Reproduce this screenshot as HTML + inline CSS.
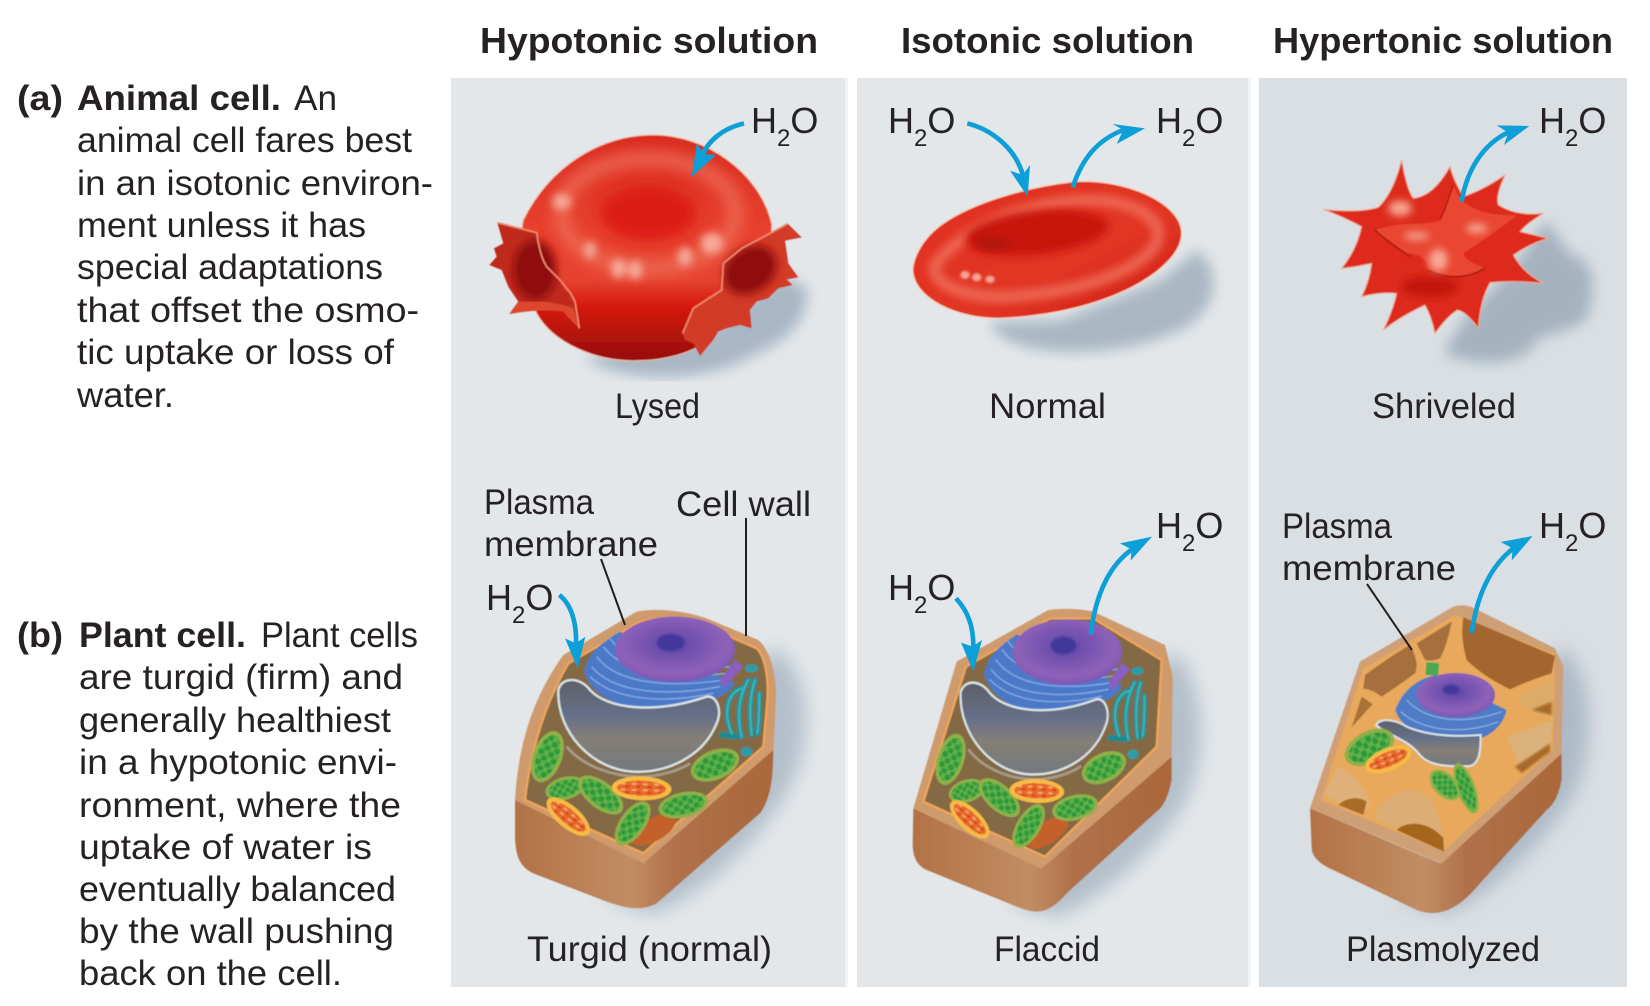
<!DOCTYPE html>
<html lang="en"><head><meta charset="utf-8"><title>Osmosis in animal and plant cells</title>
<style>html,body{margin:0;padding:0;background:#fff;width:1650px;height:1006px;overflow:hidden}svg{display:block}
text{font-family:"Liberation Sans",sans-serif;fill:#262223}.b{font-weight:bold}</style></head><body>
<svg xmlns="http://www.w3.org/2000/svg" width="1650" height="1006" viewBox="0 0 1650 1006">
<defs>
<filter id="s" x="-5%" y="-5%" width="110%" height="110%"><feGaussianBlur stdDeviation="1.6"/></filter>
<filter id="b2" x="-30%" y="-30%" width="160%" height="160%"><feGaussianBlur stdDeviation="3"/></filter>
<filter id="b8" x="-60%" y="-60%" width="220%" height="220%"><feGaussianBlur stdDeviation="12"/></filter>
<filter id="b16" x="-50%" y="-50%" width="200%" height="200%"><feGaussianBlur stdDeviation="20"/></filter>
<filter id="b28" x="-60%" y="-60%" width="220%" height="220%"><feGaussianBlur stdDeviation="28"/></filter>
<linearGradient id="side" x1="0" y1="0" x2="1" y2="0"><stop offset="0" stop-color="#b27246"/><stop offset=".45" stop-color="#c28d63"/><stop offset=".62" stop-color="#b0714a"/><stop offset="1" stop-color="#aa683a"/></linearGradient>
<linearGradient id="vac" x1="0" y1="0" x2="0" y2="1"><stop offset="0" stop-color="#5e6066"/><stop offset=".38" stop-color="#66708a"/><stop offset=".65" stop-color="#857f76"/><stop offset="1" stop-color="#73787f"/></linearGradient>
<radialGradient id="nuc" cx=".48" cy=".42" r=".6"><stop offset="0" stop-color="#4f3fa0"/><stop offset=".25" stop-color="#6e4fae"/><stop offset=".75" stop-color="#8f62b8"/><stop offset="1" stop-color="#7a55b4"/></radialGradient>
<linearGradient id="lys" x1="0" y1="0" x2="0" y2="1"><stop offset="0" stop-color="#d92b20"/><stop offset=".4" stop-color="#e7402d"/><stop offset=".64" stop-color="#e64330"/><stop offset=".76" stop-color="#d5190f"/><stop offset="1" stop-color="#960e0b"/></linearGradient>
<linearGradient id="nor" x1="0" y1="0" x2="1" y2="1"><stop offset="0" stop-color="#e0301f"/><stop offset=".6" stop-color="#e23524"/><stop offset="1" stop-color="#cc1c12"/></linearGradient>
<pattern id="dots" patternUnits="userSpaceOnUse" width="32" height="28"><rect width="32" height="28" fill="#62b048"/><circle cx="9" cy="8" r="9" fill="#2c9a3c"/><circle cx="25" cy="21" r="9" fill="#2c9a3c"/></pattern>
<pattern id="mdots" patternUnits="userSpaceOnUse" width="30" height="18"><rect width="30" height="18" fill="#e9692b"/><rect x="3" y="3" width="13" height="5" fill="#f3b27a"/><rect x="16" y="11" width="11" height="5" fill="#c9401c"/></pattern>
<g id="chl"><ellipse rx="80" ry="40" fill="#8fb04a"/><ellipse rx="68" ry="30" fill="url(#dots)"/></g>
<g id="mit"><ellipse rx="80" ry="36" fill="#f6bb45"/><ellipse rx="66" ry="23" fill="url(#mdots)"/></g>
<g id="org">
<ellipse cx="640" cy="1050" rx="75" ry="34" transform="rotate(-30 640 1050)" fill="#c4602a"/>
<path d="M432 575C445 510 500 480 540 455L885 610C860 660 780 665 700 685 600 705 460 670 432 575Z" fill="#4c79c8"/>
<g fill="none" stroke="#86a9e4" stroke-width="4"><path d="M455 560C520 640 680 650 840 620"/><path d="M470 530C530 610 680 625 850 600"/><path d="M490 500C550 580 700 600 860 580"/><path d="M450 590C530 665 680 670 820 640"/><path d="M510 475C570 560 720 580 870 560"/></g>
<path d="M850 625L910 560 885 540 840 600Z" fill="#8a5fc0"/>
<ellipse cx="705" cy="508" rx="180" ry="98" fill="url(#nuc)"/>
<ellipse cx="692" cy="488" rx="42" ry="26" fill="#42389a" filter="url(#b2)"/>
<path d="M355 630C365 590 420 590 450 630 500 685 640 705 800 650 830 645 848 690 830 730 790 830 680 880 580 875 460 870 350 760 355 630Z" fill="url(#vac)" stroke="#d8e3e6" stroke-width="7"/>
<path d="M380 800C430 860 520 890 600 890 660 890 720 870 750 850" fill="none" stroke="#a79b8c" stroke-width="8"/>
<g fill="none" stroke="#1d8a92" stroke-width="17" stroke-linecap="round"><path d="M905 625C860 640 850 700 875 760"/><path d="M925 600C895 650 890 710 905 770"/><path d="M945 600C925 660 930 720 935 765"/><path d="M958 640C958 680 958 720 952 760"/><path d="M845 765L890 770"/></g>
<g fill="none" stroke="#38b2b8" stroke-width="8" stroke-linecap="round"><path d="M905 625C860 640 850 700 875 760"/><path d="M925 600C895 650 890 710 905 770"/><path d="M945 600C925 660 930 720 935 765"/><path d="M958 640C958 680 958 720 952 760"/></g>
<ellipse cx="935" cy="565" rx="20" ry="12" fill="#2a9ea6"/><ellipse cx="920" cy="815" rx="18" ry="14" fill="#2a9ea6"/>
<use href="#chl" transform="translate(322 830) rotate(-70) scale(1 1.1)"/>
<use href="#chl" transform="translate(825 855) rotate(-22) scale(.95 1.1)"/>
<use href="#chl" transform="translate(375 925) rotate(-15) scale(.75 .85)"/>
<use href="#chl" transform="translate(482 945) rotate(38) scale(1 1)"/>
<use href="#mit" transform="translate(605 925) rotate(2) scale(1.12 1)"/>
<use href="#mit" transform="translate(385 1010) rotate(40) scale(1 .95)"/>
<use href="#chl" transform="translate(578 1030) rotate(-55) scale(.95 .95)"/>
<use href="#chl" transform="translate(730 975) rotate(-12) scale(.95 .95)"/>
</g>
</defs>

<rect x="451" y="78" width="394" height="909" fill="#e3e7ea"/>
<rect x="845" y="78" width="3" height="909" fill="#f0f2f4"/>
<rect x="857" y="78" width="391" height="909" fill="#e3e7ea"/>
<rect x="1248" y="78" width="3" height="909" fill="#f3f4f5"/>
<rect x="1259" y="78" width="368" height="909" fill="#dadfe3"/>

<!-- Lysed -->
<g transform="translate(440 0) scale(.33333)"><g filter="url(#s)">
<path d="M430 1075C600 1170 850 1130 950 1060 1050 1020 1110 950 1100 860L1020 830 800 1000Z" fill="#a9b7c4" filter="url(#b16)"/>
<path d="M250 660C330 500 480 405 640 405 800 405 960 520 995 672 1000 760 900 960 775 1040 720 1070 650 1082 590 1082 470 1085 340 1030 290 940 270 880 230 760 250 660Z" fill="url(#lys)" stroke="#f4b6a0" stroke-width="3"/>
<ellipse cx="625" cy="640" rx="262" ry="165" fill="none" stroke="#ee6b56" stroke-width="50" filter="url(#b16)" opacity=".8"/>
<ellipse cx="625" cy="640" rx="145" ry="82" fill="#dc1a18" filter="url(#b16)"/>
<g fill="#f7a898" filter="url(#b8)"><ellipse cx="365" cy="605" rx="28" ry="24"/><ellipse cx="535" cy="805" rx="22" ry="30"/><ellipse cx="585" cy="810" rx="22" ry="28"/><ellipse cx="735" cy="770" rx="22" ry="28"/><ellipse cx="815" cy="730" rx="34" ry="32"/><ellipse cx="450" cy="750" rx="18" ry="26"/></g>
<path d="M172 668L250 690 290 698Q300 770 320 800L360 840 372 870 392 880 388 900 405 905 418 985Q390 960 370 935 300 925 208 942L235 905 205 860 185 810 148 795 170 770 162 745 190 730Z" fill="#c02a1e"/>
<ellipse cx="285" cy="810" rx="65" ry="90" fill="#8f100c" filter="url(#b8)"/>
<path d="M208 942L235 905 310 905Q360 910 400 925L418 985Q390 960 370 935 300 925 208 942Z" fill="#dc472f"/>
<path d="M1042 670L1085 712 1035 722 1045 790 1075 832 1040 838 1058 855 1015 865 985 895 950 905 930 930 935 985 900 975 860 985 835 995 820 1020 780 1068 760 1030 735 1020 728 1000 760 925 845 870 850 790 905 745 1000 695Z" fill="#d23a27"/>
<ellipse cx="930" cy="810" rx="85" ry="66" transform="rotate(-35 930 810)" fill="#8f100c" filter="url(#b8)"/>
<g fill="none" stroke="#ef8a70" stroke-width="5"><path d="M172 668L290 698Q300 770 320 800L360 840 392 880 405 905 418 985"/><path d="M1042 672L1000 695 905 745 850 790 845 870 760 925 728 1000"/></g>
</g></g>

<!-- Normal -->
<g transform="translate(860 80) scale(.33333)"><g filter="url(#s)">
<path d="M390 725C420 840 780 850 980 740 1070 690 1090 570 1010 510L900 600 600 720Z" fill="#aab7c3" filter="url(#b16)"/>
<path d="M158 565C165 520 190 480 230 445 310 380 470 325 640 305 800 295 965 370 965 460 965 560 760 700 420 715 300 717 158 660 158 565Z" fill="url(#nor)" stroke="#f6cdbb" stroke-width="4"/>
<path d="M225 555C290 470 430 385 640 362 790 350 895 400 895 465 890 535 740 630 450 650 310 655 210 610 225 555Z" fill="none" stroke="#ee6b56" stroke-width="38" filter="url(#b8)" opacity=".85"/>
<ellipse cx="530" cy="458" rx="215" ry="65" transform="rotate(-6 530 458)" fill="#c8160f" filter="url(#b8)"/>
<ellipse cx="400" cy="490" rx="50" ry="18" fill="#ad120c" filter="url(#b8)"/>
<g fill="#f6a595" filter="url(#b2)"><ellipse cx="315" cy="585" rx="14" ry="12"/><ellipse cx="350" cy="592" rx="14" ry="12"/><ellipse cx="390" cy="598" rx="14" ry="11"/></g>
</g></g>

<!-- Shriveled -->
<g transform="translate(1250 0) scale(.33333)"><g filter="url(#s)">
<path d="M580 1060C700 1110 840 1090 860 1020 930 990 1030 980 1020 920 1040 850 1030 780 960 760L890 660 790 800 640 960Z" fill="#a6b3bf" filter="url(#b16)"/>
<path d="M220 628Q330 640 385 622 430 580 455 480 470 570 490 595 550 590 600 500 610 540 640 590 700 570 765 525 735 590 745 615 800 650 880 640 830 670 810 695 850 705 895 715 840 730 790 765 820 820 880 850 790 840 720 848 690 900 685 985 650 935 622 930 590 950 555 1000 545 950 525 915 450 950 400 990 430 930 440 880 390 875 335 890 360 840 365 790 320 800 275 805 320 750 335 680 280 650 220 628Z" fill="#dd2c1c" stroke="#f2a48c" stroke-width="3"/>
<ellipse cx="540" cy="860" rx="85" ry="32" fill="#c4160e" filter="url(#b8)"/>
<path d="M375 690C470 660 540 680 570 660 590 620 600 580 610 555 630 610 680 650 800 645 760 680 700 720 640 760 650 790 700 800 705 803 650 840 560 830 535 810 530 770 500 760 470 760 430 730 400 710 375 690Z" fill="#e94630"/>
<path d="M375 690C420 730 450 750 480 770M535 810C590 840 660 835 705 803M570 660C590 620 600 580 610 555" fill="none" stroke="#a5160e" stroke-width="4"/>
<g fill="#f8a896" filter="url(#b8)"><ellipse cx="450" cy="625" rx="35" ry="22"/><ellipse cx="680" cy="685" rx="32" ry="14"/><ellipse cx="565" cy="780" rx="28" ry="34"/><ellipse cx="500" cy="708" rx="38" ry="11"/></g>
</g></g>

<!-- Turgid -->
<g transform="translate(440 480) scale(.33333)"><g filter="url(#s)">
<path d="M1000 500C1110 570 1120 760 1060 900 960 1100 760 1260 640 1300L500 1260 800 800Z" fill="#b3bfca" filter="url(#b28)"/>
<path d="M225 960L610 1145 1000 810C1000 900 990 960 960 1000L650 1270C600 1295 560 1285 500 1265L280 1180C240 1160 225 1130 225 1060Z" fill="url(#side)"/>
<path d="M225 960C235 790 280 650 370 525L590 395C640 385 720 388 800 415L955 480C990 510 1010 580 1008 660L1000 810 610 1150Z" fill="#cf9a6c"/>
<path d="M255 960C270 820 310 680 385 550L600 425C650 412 720 415 790 435L950 505C975 530 985 590 983 650L970 800 610 1120Z" fill="#836a45" stroke="#f0a45a" stroke-width="7"/>
<use href="#org"/>
</g></g>

<!-- Flaccid -->
<g transform="translate(860 490) scale(.33333)"><g filter="url(#s)">
<path d="M935 480C1040 560 1040 800 980 930 880 1100 700 1240 590 1280L450 1240 750 780Z" fill="#b3bfca" filter="url(#b28)"/>
<path d="M160 955L545 1135 935 800 935 870C925 920 910 950 890 965L620 1210C560 1280 520 1270 470 1250L200 1140C170 1125 158 1100 158 1060Z" fill="url(#side)"/>
<path d="M160 955L290 515 565 360C620 352 680 360 700 365L915 465 938 560 935 800 545 1135Z" fill="#cf9a6c"/>
<path d="M190 935L318 530 570 385 700 385 905 510 890 770 555 1100Z" fill="#836a45" stroke="#f0a45a" stroke-width="7"/>
<use href="#org" transform="translate(-23 -22) scale(.915 1)"/>
</g></g>

<!-- Plasmolyzed -->
<g transform="translate(1250 480) scale(.33333)"><g filter="url(#s)">
<path d="M935 500C1040 580 1030 800 980 930 880 1100 700 1260 590 1300L450 1260 750 780Z" fill="#adbac6" filter="url(#b28)"/>
<path d="M180 985L570 1150 935 820 935 900C925 950 910 975 890 990L690 1210C640 1270 580 1320 500 1290L250 1170C205 1150 185 1130 185 1100Z" fill="url(#side)"/>
<path d="M180 985L330 545 610 380C640 372 660 378 680 388L915 505 940 560 935 820 575 1150Z" fill="#cf9f74"/>
<path d="M212 960L340 565 615 405 915 522 908 810 580 1115Z" fill="#e8a95c"/>
<path d="M345 585Q420 530 480 495 510 550 495 580 440 620 395 650 370 630 340 625Z" fill="#a5703e"/>
<path d="M500 490L605 425Q590 500 570 535 540 545 525 540 510 510 500 490Z" fill="#a5703e"/>
<path d="M640 412L915 528 905 580Q840 600 780 628 700 590 650 540 630 470 640 412Z" fill="#a3662e"/>
<path d="M800 650Q850 625 905 600L905 705Q840 710 800 650Z" fill="#dcab68"/><path d="M845 690L905 665 905 705Z" fill="#a66a28" filter="url(#b2)"/>
<path d="M770 770Q840 745 905 722L900 810 810 880Q800 820 770 770Z" fill="#dcb27c"/><path d="M795 860L900 790 900 815 815 880Z" fill="#a86b2a" filter="url(#b2)"/>
<path d="M370 1010Q400 950 470 930 520 935 545 960 575 1030 585 1100L450 1050Z" fill="#dcae76"/><path d="M440 1050C470 1020 540 1025 580 1075L582 1115Z" fill="#a3661e"/>
<path d="M220 945L262 860Q320 880 360 965L340 1005Z" fill="#dfb07a"/><path d="M265 975C290 950 330 950 350 965L340 1005Z" fill="#a86c27"/>
<path d="M335 650L368 672 305 742Z" fill="#a97338"/>
<rect x="528" y="548" width="38" height="38" fill="#49a851" transform="rotate(5 547 567)"/>
<path d="M436 690C465 610 530 590 560 585L770 690C750 770 670 790 600 790 520 780 450 740 436 690Z" fill="#4f7cc6"/>
<g fill="none" stroke="#8fb0e6" stroke-width="3.5"><path d="M452 695C520 755 640 765 745 725"/><path d="M470 660C530 725 640 735 755 695"/></g>
<ellipse cx="617" cy="645" rx="118" ry="66" fill="url(#nuc)"/><ellipse cx="602" cy="628" rx="24" ry="14" fill="#42389a" filter="url(#b2)"/>
<path d="M378 735C390 715 430 715 470 740 540 770 630 770 692 765 692 800 692 850 660 858 600 860 540 860 510 825 470 775 410 765 378 735Z" fill="url(#vac)" stroke="#d9e4e8" stroke-width="6"/>
<use href="#chl" transform="translate(358 802) rotate(-28) scale(1 1.2)"/>
<use href="#mit" transform="translate(415 838) rotate(-22) scale(.92 .95)"/>
<use href="#chl" transform="translate(585 915) rotate(45) scale(.7 .85)"/>
<use href="#chl" transform="translate(648 925) rotate(70) scale(1 .7)"/>
</g></g>

<!-- Arrows -->
<g fill="#0c9fd8">
<g transform="translate(440 0) scale(.33333)"><path d="M912 370C850 385 805 420 785 470" fill="none" stroke="#0c9fd8" stroke-width="14"/><path d="M755 530L770 432 795 462 828 465Z"/></g>
<g transform="translate(860 80) scale(.33333)"><path d="M322 130C400 150 470 210 490 290" fill="none" stroke="#0c9fd8" stroke-width="14"/><path d="M503 350L450 272 488 285 510 255Z"/><path d="M638 322C665 240 710 180 790 150" fill="none" stroke="#0c9fd8" stroke-width="14"/><path d="M855 145L758 132 790 150 770 192Z"/></g>
<g transform="translate(1250 0) scale(.33333)"><path d="M635 605C650 510 700 430 780 395" fill="none" stroke="#0c9fd8" stroke-width="14"/><path d="M838 378L740 376 775 398 762 435Z"/></g>
<g transform="translate(440 480) scale(.33333)"><path d="M358 345C395 375 410 430 408 490" fill="none" stroke="#0c9fd8" stroke-width="14"/><path d="M413 565L375 475 408 490 436 470Z"/></g>
<g transform="translate(860 490) scale(.33333)"><path d="M288 325C325 365 340 410 340 470" fill="none" stroke="#0c9fd8" stroke-width="14"/><path d="M340 545L303 458 338 470 366 450Z"/><path d="M692 432C705 330 740 230 820 175" fill="none" stroke="#0c9fd8" stroke-width="14"/><path d="M876 140L780 160 815 178 812 212Z"/></g>
<g transform="translate(1250 480) scale(.33333)"><path d="M665 460C680 350 720 260 790 205" fill="none" stroke="#0c9fd8" stroke-width="14"/><path d="M848 168L752 186 788 205 785 242Z"/></g>
</g>

<!-- Leaders -->
<g stroke="#231f20" stroke-width="2" fill="none">
<path d="M601 559L625 625"/><path d="M746 518V636"/><path d="M1367 584L1412 650"/>
</g>

<g transform="translate(-1 0)">
<!-- Headers -->
<g font-size="36">
<text class="b" x="481" y="53" textLength="338" lengthAdjust="spacingAndGlyphs">Hypotonic solution</text>
<text class="b" x="902" y="53" textLength="293" lengthAdjust="spacingAndGlyphs">Isotonic solution</text>
<text class="b" x="1274" y="53" textLength="340" lengthAdjust="spacingAndGlyphs">Hypertonic solution</text>
</g>

<!-- Left text -->
<g font-size="35">
<text class="b" x="18" y="110" textLength="46" lengthAdjust="spacingAndGlyphs">(a)</text>
<text class="b" x="78" y="110" textLength="204" lengthAdjust="spacingAndGlyphs">Animal cell.</text>
<text x="295" y="110" textLength="43" lengthAdjust="spacingAndGlyphs">An</text>
<text x="78" y="152" textLength="335" lengthAdjust="spacingAndGlyphs">animal cell fares best</text>
<text x="78" y="195" textLength="356" lengthAdjust="spacingAndGlyphs">in an isotonic environ-</text>
<text x="78" y="237" textLength="289" lengthAdjust="spacingAndGlyphs">ment unless it has</text>
<text x="78" y="279" textLength="306" lengthAdjust="spacingAndGlyphs">special adaptations</text>
<text x="78" y="322" textLength="342" lengthAdjust="spacingAndGlyphs">that offset the osmo-</text>
<text x="78" y="364" textLength="317" lengthAdjust="spacingAndGlyphs">tic uptake or loss of</text>
<text x="78" y="407" textLength="97" lengthAdjust="spacingAndGlyphs">water.</text>
<text class="b" x="18" y="647" textLength="46" lengthAdjust="spacingAndGlyphs">(b)</text>
<text class="b" x="80" y="647" textLength="167" lengthAdjust="spacingAndGlyphs">Plant cell.</text>
<text x="262" y="647" textLength="157" lengthAdjust="spacingAndGlyphs">Plant cells</text>
<text x="80" y="689" textLength="324" lengthAdjust="spacingAndGlyphs">are turgid (firm) and</text>
<text x="80" y="732" textLength="312" lengthAdjust="spacingAndGlyphs">generally healthiest</text>
<text x="80" y="774" textLength="318" lengthAdjust="spacingAndGlyphs">in a hypotonic envi-</text>
<text x="80" y="817" textLength="322" lengthAdjust="spacingAndGlyphs">ronment, where the</text>
<text x="80" y="859" textLength="293" lengthAdjust="spacingAndGlyphs">uptake of water is</text>
<text x="80" y="901" textLength="317" lengthAdjust="spacingAndGlyphs">eventually balanced</text>
<text x="80" y="943" textLength="315" lengthAdjust="spacingAndGlyphs">by the wall pushing</text>
<text x="80" y="985" textLength="263" lengthAdjust="spacingAndGlyphs">back on the cell.</text>

<text x="616" y="418" textLength="85" lengthAdjust="spacingAndGlyphs">Lysed</text>
<text x="990" y="418" textLength="117" lengthAdjust="spacingAndGlyphs">Normal</text>
<text x="1373" y="418" textLength="144" lengthAdjust="spacingAndGlyphs">Shriveled</text>
<text x="528" y="961" textLength="245" lengthAdjust="spacingAndGlyphs">Turgid (normal)</text>
<text x="995" y="961" textLength="106" lengthAdjust="spacingAndGlyphs">Flaccid</text>
<text x="1347" y="961" textLength="194" lengthAdjust="spacingAndGlyphs">Plasmolyzed</text>
<text x="485" y="514" textLength="110" lengthAdjust="spacingAndGlyphs">Plasma</text>
<text x="485" y="556" textLength="174" lengthAdjust="spacingAndGlyphs">membrane</text>
<text x="677" y="516" textLength="135" lengthAdjust="spacingAndGlyphs">Cell wall</text>
<text x="1283" y="538" textLength="110" lengthAdjust="spacingAndGlyphs">Plasma</text>
<text x="1283" y="580" textLength="174" lengthAdjust="spacingAndGlyphs">membrane</text>
</g>
<g font-size="36">
<text x="752" y="133">H<tspan font-size="24" dy="13">2</tspan><tspan dy="-13">O</tspan></text>
<text x="889" y="133">H<tspan font-size="24" dy="13">2</tspan><tspan dy="-13">O</tspan></text>
<text x="1157" y="133">H<tspan font-size="24" dy="13">2</tspan><tspan dy="-13">O</tspan></text>
<text x="1540" y="133">H<tspan font-size="24" dy="13">2</tspan><tspan dy="-13">O</tspan></text>
<text x="487" y="610">H<tspan font-size="24" dy="13">2</tspan><tspan dy="-13">O</tspan></text>
<text x="889" y="600">H<tspan font-size="24" dy="13">2</tspan><tspan dy="-13">O</tspan></text>
<text x="1157" y="538">H<tspan font-size="24" dy="13">2</tspan><tspan dy="-13">O</tspan></text>
<text x="1540" y="538">H<tspan font-size="24" dy="13">2</tspan><tspan dy="-13">O</tspan></text>
</g>
</g>
</svg>
</body></html>
